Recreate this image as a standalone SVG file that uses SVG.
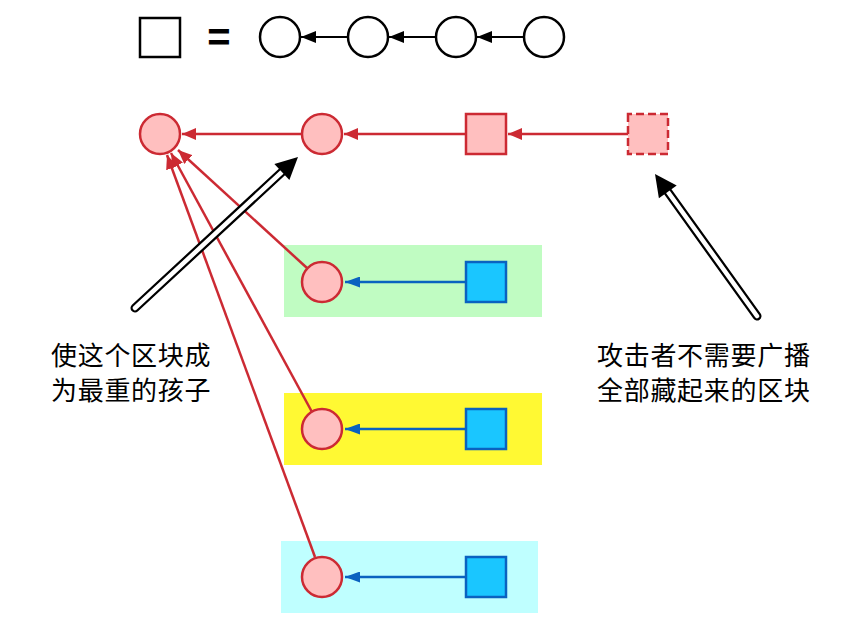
<svg xmlns="http://www.w3.org/2000/svg" width="845" height="644" viewBox="0 0 845 644">
<style>
.lg{fill:#fff;stroke:#000;stroke-width:2.5}
.rn{fill:#ffbfbf;stroke:#cc2a33;stroke-width:2.5}
.bn{fill:#1ac6ff;stroke:#0a62c0;stroke-width:2.5}
.ke{stroke:#000;stroke-width:2.2}
.re{stroke:#cc2a33;stroke-width:2.5;fill:none}
.be{stroke:#0a62c0;stroke-width:2.5;fill:none}
.txt{font-family:"Noto Sans CJK SC","Noto Sans",sans-serif;font-size:26px;letter-spacing:0.7px;fill:#000}
.hs{stroke:#000;stroke-width:9;stroke-linecap:round;fill:none}
.hw{stroke:#fff;stroke-width:4.5;stroke-linecap:round;fill:none}
</style>
<defs>
<marker id="ak" markerUnits="userSpaceOnUse" markerWidth="15" markerHeight="12" refX="15" refY="6" orient="auto"><path d="M0,0 L15,6 L0,12 z" fill="#000"/></marker>
<marker id="ar" markerUnits="userSpaceOnUse" markerWidth="14" markerHeight="12" refX="14" refY="6" orient="auto"><path d="M0,0 L14,6 L0,12 z" fill="#cc2a33"/></marker>
<marker id="ab" markerUnits="userSpaceOnUse" markerWidth="15" markerHeight="11" refX="15" refY="5.5" orient="auto"><path d="M0,0 L15,5.5 L0,11 z" fill="#0a62c0"/></marker>
</defs>
<rect x="284" y="245" width="258" height="72" fill="#c0fcc2"/>
<rect x="284" y="393" width="258" height="72" fill="#fff933"/>
<rect x="281" y="541" width="257" height="72" fill="#bfffff"/>
<g id="edges">
<line class="ke" x1="348" y1="37" x2="301" y2="37" marker-end="url(#ak)"/>
<line class="ke" x1="436" y1="37" x2="389" y2="37" marker-end="url(#ak)"/>
<line class="ke" x1="524" y1="37" x2="477" y2="37" marker-end="url(#ak)"/>
<line class="re" x1="302" y1="134" x2="182" y2="134" marker-end="url(#ar)"/>
<line class="re" x1="466" y1="134" x2="344" y2="134" marker-end="url(#ar)"/>
<line class="re" x1="628" y1="134" x2="508" y2="134" marker-end="url(#ar)"/>
<line class="re" x1="307" y1="268" x2="178" y2="150" marker-end="url(#ar)"/>
<line class="re" x1="312" y1="412" x2="171" y2="153" marker-end="url(#ar)"/>
<line class="re" x1="315" y1="557" x2="167" y2="155" marker-end="url(#ar)"/>
<line class="be" x1="466" y1="282" x2="345" y2="282" marker-end="url(#ab)"/>
<line class="be" x1="466" y1="429" x2="345" y2="429" marker-end="url(#ab)"/>
<line class="be" x1="466" y1="577" x2="345" y2="577" marker-end="url(#ab)"/>
<g id="hollow1">
<line class="hs" x1="135" y1="308" x2="283" y2="171"/>
<line class="hw" x1="135" y1="308" x2="283" y2="171"/>
<polygon points="298,157 289.4,180.1 274.4,163.9" fill="#000"/>
</g>
<g id="hollow2">
<line class="hs" x1="757" y1="316" x2="668" y2="192"/>
<line class="hw" x1="757" y1="316" x2="668" y2="192"/>
<polygon points="655,174 676.7,185.5 658.9,198.3" fill="#000"/>
</g>
</g>
<g id="legend-square"><rect class="lg" x="140" y="18" width="40" height="39"/></g>
<g id="equals"><text x="219" y="51" text-anchor="middle" font-family="Liberation Sans,sans-serif" font-weight="bold" font-size="40">=</text></g>
<g id="lc1"><circle class="lg" cx="280" cy="37" r="20"/></g>
<g id="lc2"><circle class="lg" cx="368" cy="37" r="20"/></g>
<g id="lc3"><circle class="lg" cx="456" cy="37" r="20"/></g>
<g id="lc4"><circle class="lg" cx="544" cy="37" r="20"/></g>
<g id="r1"><circle class="rn" cx="160" cy="134" r="20"/></g>
<g id="r2"><circle class="rn" cx="322" cy="134" r="20"/></g>
<g id="r3"><rect class="rn" x="466" y="114" width="40" height="40"/></g>
<g id="r4"><rect class="rn" x="628" y="114" width="40" height="40" stroke-dasharray="8 4" stroke-dashoffset="4"/></g>
<g id="g1"><circle class="rn" cx="322" cy="282" r="20"/></g>
<g id="g2"><rect class="bn" x="466" y="262" width="40" height="40"/></g>
<g id="y1"><circle class="rn" cx="322" cy="429" r="20"/></g>
<g id="y2"><rect class="bn" x="466" y="409" width="40" height="40"/></g>
<g id="c1"><circle class="rn" cx="322" cy="577" r="20"/></g>
<g id="c2"><rect class="bn" x="466" y="557" width="40" height="40"/></g>
<g id="label-left"><text class="txt" x="51" y="365">使这个区块成</text><text class="txt" x="51" y="400">为最重的孩子</text></g>
<g id="label-right"><text class="txt" x="597" y="365">攻击者不需要广播</text><text class="txt" x="597" y="400">全部藏起来的区块</text></g>
</svg>
